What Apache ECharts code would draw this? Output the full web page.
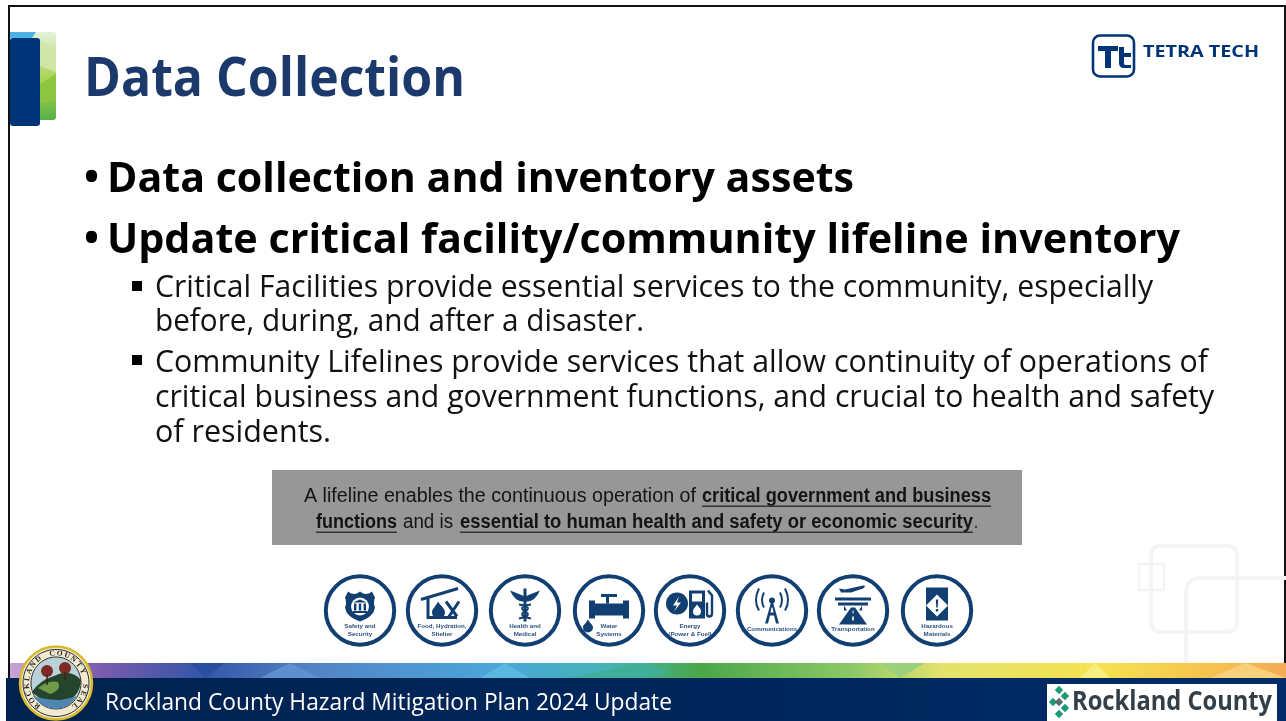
<!DOCTYPE html>
<html>

<head>
    <meta charset="utf-8">
    <script src="https://cdn.jsdelivr.net/npm/echarts@6/dist/echarts.min.js"></script>
    <style>
        html, body { margin: 0; padding: 0; background: #fff; }
    </style>
</head>

<body>
    <div id="main" style="width: 1286px;height:721px;"></div>
    <script type="text/javascript">
        // slide text
        var slideTitle = 'Data Collection';
        var mainBullets = ['Data collection and inventory assets', 'Update critical facility/community lifeline inventory'];
        var subLines = [
            'Critical Facilities provide essential services to the community, especially',
            'before, during, and after a disaster.',
            'Community Lifelines provide services that allow continuity of operations of',
            'critical business and government functions, and crucial to health and safety',
            'of residents.'
        ];
        var boxPlain = ['A lifeline enables the continuous operation of', 'and is', '.'];
        var boxStrong = ['critical government and business', 'functions', 'essential to human health and safety or economic security'];
        var lifelineLabels = [
            ['Safety and', 'Security'],
            ['Food, Hydration,', 'Shelter'],
            ['Health and', 'Medical'],
            ['Water', 'Systems'],
            ['Energy', '(Power & Fuel)'],
            ['Communications'],
            ['Transportation'],
            ['Hazardous', 'Materials']
        ];
        var footerText = 'Rockland County Hazard Mitigation Plan 2024 Update';
        var logoText = 'TETRA TECH';
        var countyText = 'Rockland County';
        var sealText = 'ROCKLAND COUNTY SEAL';

        var NAVY = '#003478';
        var TITLE_BLUE = '#1b3a6b';
        var ICON_BLUE = '#123f72';
        var SANS = '"Open Sans", "Noto Sans", sans-serif';

        var els = [];
        var ctx = document.createElement('canvas').getContext('2d');
        var pathTypes = {};
        var pathCount = 0;

        // text squeezed to the width it has on the slide
        function fitText(str, x, y, font, fill, width) {
            ctx.font = font;
            var w = ctx.measureText(str).width;
            els.push({
                type: 'text', x: x, y: y, scaleX: width ? width / w : 1, silent: true,
                style: { text: str, x: 0, y: 0, font: font, fill: fill, align: 'left', verticalAlign: 'middle' }
            });
        }
        function centerText(str, x, y, font, fill) {
            els.push({
                type: 'text', silent: true,
                style: { text: str, x: x, y: y, font: font, fill: fill, align: 'center', verticalAlign: 'middle' }
            });
        }
        function rect(x, y, w, h, fill, r) {
            els.push({ type: 'rect', silent: true, shape: { x: x, y: y, width: w, height: h, r: r || 0 }, style: { fill: fill } });
        }
        function box(x, y, w, h, stroke, lw, r) {
            els.push({ type: 'rect', silent: true, shape: { x: x, y: y, width: w, height: h, r: r || 0 }, style: { fill: 'none', stroke: stroke, lineWidth: lw } });
        }
        // graphic component has no plain 'path' type, so each svg path gets registered as a shape
        function rawPath(d, ox, oy, fill, stroke, lw) {
            if (!pathTypes[d]) {
                pathTypes[d] = 'slidePath' + (pathCount++);
                echarts.graphic.registerShape(pathTypes[d], echarts.graphic.extendPath(d, {}));
            }
            els.push({
                type: pathTypes[d], silent: true, x: ox, y: oy,
                style: { fill: fill || 'none', stroke: stroke || 'none', lineWidth: lw || 0 }
            });
        }
        function grad(x0, y0, x1, y1, stops) {
            return new echarts.graphic.LinearGradient(x0, y0, x1, y1, stops.map(function (s) {
                return { offset: s[0], color: s[1] };
            }));
        }

        // page frame
        rect(8, 5, 2, 673, '#111');
        rect(8, 5, 1278, 2, '#111');
        rect(1284, 5, 2, 660, '#111');

        // title accent
        rect(10, 32, 46, 88, grad(0, 0, 0, 1, [[0, '#e4f2d8'], [0.3, '#c4e08c'], [0.6, '#a2d044'], [1, '#58b04a']]), 3);
        rawPath('M10 32H36L32 38H10Z', 0, 0, '#4cb2e2');
        rawPath('M40 40L56 52V72L40 66Z', 0, 0, '#cfe6a8');
        rawPath('M40 84L56 74V100L40 104Z', 0, 0, '#8cc63e');
        rect(10, 38, 30, 88, NAVY, 3);
        fitText(slideTitle, 84, 81, 'bold 53px ' + SANS, TITLE_BLUE, 381);

        // tetra tech logo
        box(1093, 35.5, 41, 41, NAVY, 2.6, 7);
        rawPath('M1098 46h20v5h-7v17h-6V51h-7z', 0, 0, NAVY);
        rawPath('M1119 47h5v6h7v4h-7v6c0 2 1 2 3 2h4v3h-7c-3 0-5-2-5-5z', 0, 0, NAVY);
        fitText(logoText, 1143, 52, 'bold 16px ' + SANS, NAVY, 116);

        // big bullets
        var bulletY = [180, 241];
        var bulletW = [747, 1073];
        mainBullets.forEach(function (s, i) {
            fitText('•', 84, bulletY[i] - 1, 'bold 40px ' + SANS, '#000');
            fitText(s, 107, bulletY[i], 'bold 42px ' + SANS, '#000', bulletW[i]);
        });

        // sub bullets
        var subY = [288, 322, 363, 398, 433];
        var subW = [998, 489, 1053, 1059, 176];
        subLines.forEach(function (s, i) {
            fitText(s, 155, subY[i], '31px ' + SANS, '#111', subW[i]);
        });
        rect(132, 281, 10, 10, '#000');
        rect(132, 355, 10, 10, '#000');

        // grey lifeline box
        rect(272, 470, 750, 75, '#979797');
        var BOX_FONT = '20px "Liberation Sans", sans-serif';
        var BOX_BOLD = 'bold 20px "Liberation Sans", sans-serif';
        var INK = '#141414';
        fitText(boxPlain[0], 304, 496, BOX_FONT, INK, 392);
        fitText(boxStrong[0], 702, 496, BOX_BOLD, INK, 289);
        fitText(boxStrong[1], 316, 522, BOX_BOLD, INK, 81);
        fitText(boxPlain[1], 403, 522, BOX_FONT, INK, 50);
        fitText(boxStrong[2], 460, 522, BOX_BOLD, INK, 513);
        fitText(boxPlain[2], 974, 522, BOX_FONT, INK, 4);
        rect(702, 505.5, 289, 1.5, '#333');
        rect(316, 531.5, 81, 1.5, '#333');
        rect(460, 531.5, 513, 1.5, '#333');

        // watermark squares bottom right
        box(1151, 546, 86, 86, '#f4f4f4', 4, 9);
        box(1139, 564, 25, 26, '#f4f4f4', 2.5, 0);
        rawPath('M1286 578H1200a14 14 0 0 0-14 14v71', 0, 0, null, '#f4f4f4', 4);

        // lifeline icons, local coords around each circle centre
        var iconX = [360, 442, 525, 609, 690, 772, 853, 937];
        var W = '#fff';
        var iconShapes = [
            [
                ['M-12-19Q-6-14 0-19Q6-14 12-19L15-13Q13-8 15-3Q14 6 0 11Q-14 6-15-3Q-13-8-15-13Z', ICON_BLUE],
                ['M-9-4a9 9 0 1 0 18 0a9 9 0 1 0-18 0Z', W],
                ['M-7-8L0-11L7-8ZM-6-7h2.4v7h-2.4ZM-1.2-7h2.4v7h-2.4ZM3.6-7h2.4v7h-2.4ZM-7 0.5h14v2h-14Z', ICON_BLUE]
            ],
            [
                ['M-21-11L16-22', null, ICON_BLUE, 3],
                ['M-14-12V7H15', null, ICON_BLUE, 3],
                ['M-4-9C-1-4 3-2 3 2A6.5 6.5 0 0 1-10 2C-10-2-6-4-4-9Z', ICON_BLUE],
                ['M4-9L15 6M17-9L7 6', null, ICON_BLUE, 3]
            ],
            [
                ['M-15-20Q-7-17 0-14Q7-17 15-20Q10-9 2-9H-2Q-10-9-15-20Z', ICON_BLUE],
                ['M-1.5-22h3V11h-3Z', ICON_BLUE],
                ['M-6-6Q8-4 0 1Q-8 5 6 8M6-6Q-8-4 0 1Q8 5-6 8', null, ICON_BLUE, 2]
            ],
            [
                ['M-20-10H-14V-7H14V-10H20V8H14V5H-14V8H-20Z', ICON_BLUE],
                ['M-1.5-7V-14M-8-15H8', null, ICON_BLUE, 3],
                ['M-21 9C-19 13-16 14-16 17A5 5 0 0 1-26 17C-26 14-23 13-21 9Z', ICON_BLUE]
            ],
            [
                ['M-24-7a11 11 0 1 0 22 0a11 11 0 1 0-22 0Z', ICON_BLUE],
                ['M-11-14L-17-5H-13L-16 1L-9-8H-13Z', W],
                ['M-1-20H15V8H-1Z', ICON_BLUE],
                ['M2-17H12V-9H2Z', W],
                ['M7-6C9-3 11-2 11 1A4 4 0 0 1 3 1C3-2 5-3 7-6Z', W],
                ['M18-20L22-15V3Q22 6 19 6Q17 6 17 3V-8', null, ICON_BLUE, 2.4]
            ],
            [
                ['M-7 13L-1-8H1L7 13H4L2 5H-2L-4 13ZM-1.6 2H1.6L.5-3H-.5Z', ICON_BLUE],
                ['M-3-10a3 3 0 1 0 6 0a3 3 0 1 0-6 0Z', ICON_BLUE],
                ['M-8-18Q-12-10-8-3M8-18Q12-10 8-3M-13-22Q-19-10-13 0M13-22Q19-10 13 0', null, ICON_BLUE, 2]
            ],
            [
                ['M-8-21L10-25Q14-25 10-22L-2-18L-12-18L-14-22Z', ICON_BLUE],
                ['M-18-13H18V-10H-18ZM-15-8H15V-5H9V0H6L9-5H-9L-6 0H-9V-5H-15Z', ICON_BLUE],
                ['M-2-3H2L14 14H-14Z', ICON_BLUE],
                ['M-.5 0h1v3h-1ZM-.8 6h1.6v4h-1.6Z', W]
            ],
            [
                ['M-11-23H11V10H-11Z', ICON_BLUE],
                ['M0-16L11-5L0 6L-11-5Z', W],
                ['M-1.2-11H1.2L.7-3H-.7ZM-1.2-1.5H1.2V1H-1.2Z', ICON_BLUE]
            ]
        ];
        iconX.forEach(function (cx, i) {
            els.push({ type: 'circle', silent: true, shape: { cx: cx, cy: 610.5, r: 34.2 }, style: { fill: '#fff', stroke: ICON_BLUE, lineWidth: 4 } });
            iconShapes[i].forEach(function (p) {
                rawPath(p[0], cx, 610.5, p[1], p[2], p[3]);
            });
            var lab = lifelineLabels[i];
            var small = lab.length === 1 ? 19 : 16;
            lab.forEach(function (s, j) {
                centerText(s, cx, 610.5 + small + j * 7.5, 'bold 6.2px "Liberation Sans", sans-serif', '#2d5280');
            });
        });

        // footer colour strip with a few facets
        rect(10, 663, 1276, 16, grad(0, 0, 1, 0, [
            [0, '#c7a5d6'], [0.07, '#7b5cae'], [0.15, '#3455a8'], [0.24, '#5484c6'],
            [0.38, '#4aa6da'], [0.47, '#45b4b4'], [0.54, '#4aa648'], [0.66, '#8cc968'],
            [0.73, '#e4e26c'], [0.85, '#f4e352'], [0.93, '#f8c64e'], [1, '#f5ab55']
        ]));
        rawPath('M190 663L205 678L225 663Z', 0, 0, '#2a4ea0');
        rawPath('M260 678L290 663L320 678Z', 0, 0, '#5f8fd0');
        rawPath('M480 678L505 663L530 678Z', 0, 0, '#5bb8e0');
        rawPath('M570 678L640 663L670 672L640 678Z', 0, 0, '#3fae9a');
        rawPath('M880 663L925 663L900 678Z', 0, 0, '#9cd07a');
        rawPath('M1080 678L1095 663L1110 678Z', 0, 0, '#f8ee80');
        rawPath('M1210 678L1245 663L1286 678Z', 0, 0, '#f9cf7a');

        // footer bar
        rect(6, 678, 1280, 43, grad(0, 0, 1, 0, [[0, '#00224e'], [0.5, '#00265a'], [1, '#002c69']]));
        fitText(footerText, 105, 703, '23px ' + SANS, '#fff', 567);

        // county logo
        rect(1047, 684, 230, 37, '#fff');
        [[1059, 690], [1065, 696], [1053, 702], [1065, 708], [1059, 714], [1059, 702]].forEach(function (d, i) {
            rawPath('M0-4.2L4.2 0L0 4.2L-4.2 0Z', d[0], d[1], i === 5 ? '#5a6b70' : '#1c9a78');
        });
        fitText(countyText, 1072, 703, 'bold 26px ' + SANS, '#333f48', 200);

        // county seal
        els.push({ type: 'ellipse', silent: true, shape: { cx: 56, cy: 683, rx: 36, ry: 36.5 }, style: { fill: '#f2ead0', stroke: '#d8b92a', lineWidth: 2.5 } });
        els.push({ type: 'ellipse', silent: true, shape: { cx: 56, cy: 683, rx: 33, ry: 33.5 }, style: { fill: 'none', stroke: '#2a2a2a', lineWidth: 1 } });
        els.push({ type: 'ellipse', silent: true, shape: { cx: 56, cy: 683, rx: 25, ry: 26 }, style: { fill: '#b9d2da', stroke: '#2e2e2e', lineWidth: 1 } });
        rawPath('M32 692Q40 680 54 676Q70 668 81 680Q80 698 62 703Q44 704 32 692Z', 0, 0, '#24452c');
        rawPath('M38 688Q48 680 58 682Q62 690 50 694Z', 0, 0, '#6f9a4a');
        rawPath('M33 696Q46 700 60 700Q72 698 77 696Q68 709 56 709Q41 708 33 696Z', 0, 0, '#4f86b4');
        els.push({ type: 'circle', silent: true, shape: { cx: 47, cy: 671, r: 6 }, style: { fill: '#7e2a22' } });
        els.push({ type: 'circle', silent: true, shape: { cx: 65, cy: 668, r: 6 }, style: { fill: '#7e2a22' } });
        rect(46.4, 675, 1.4, 10, '#3a2018');
        rect(64.4, 672, 1.4, 8, '#3a2018');
        var nChars = sealText.length;
        sealText.split('').forEach(function (c, i) {
            var a = (-140 + 280 * i / (nChars - 1)) * Math.PI / 180;
            els.push({
                type: 'text', silent: true,
                x: 56 + 29 * Math.sin(a), y: 683 - 29.5 * Math.cos(a), rotation: -a,
                style: { text: c, x: 0, y: 0, font: 'bold 7.5px "Liberation Serif", serif', fill: '#222', align: 'center', verticalAlign: 'middle' }
            });
        });

        var chart = echarts.init(document.getElementById('main'), null, { renderer: 'canvas' });
        chart.setOption({
            animation: false,
            backgroundColor: '#fff',
            graphic: { elements: els }
        });
    </script>
</body>

</html>
